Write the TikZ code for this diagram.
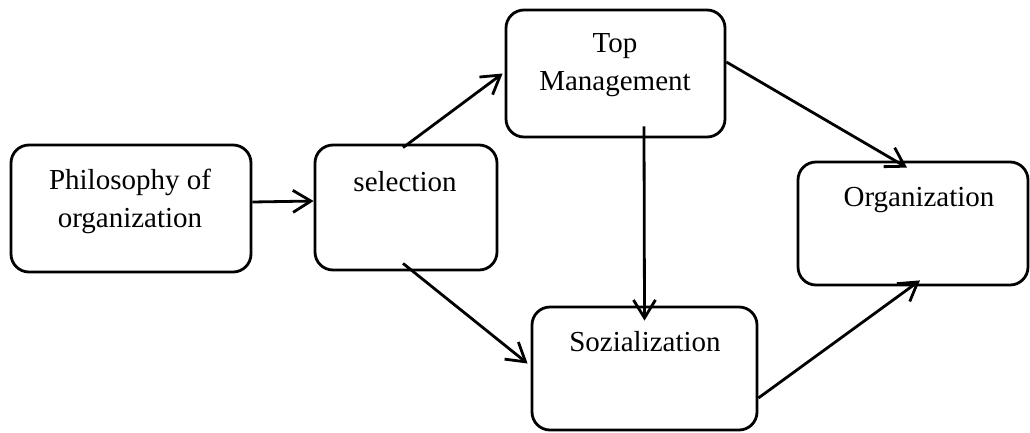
\documentclass[tikz,border=0pt]{standalone}
\usepackage{fontspec}
\setmainfont{Liberation Serif}
\usetikzlibrary{arrows.meta}

\tikzset{
  box/.style={draw, line width=2.8pt, rounded corners=18pt, inner sep=0pt},
  txt/.style={font=\fontsize{29}{38}\selectfont, align=center, inner sep=0pt},
  arr/.style={line width=2.8pt, -{Straight Barb[length=18pt,width=22pt,line width=2.8pt]}}
}

\begin{document}
\begin{tikzpicture}[x=1pt,y=-1pt]
\useasboundingbox (0,0) rectangle (1030,432);

% boxes
\node [box, minimum width=240pt, minimum height=127pt] (phil) at (131,208.5) {};
\node [box, minimum width=182pt, minimum height=125pt] (sel) at (406,207.5) {};
\node [box, minimum width=219pt, minimum height=127pt] (top) at (615.5,73.5) {};
\node [box, minimum width=230pt, minimum height=123pt] (org) at (913,223.5) {};
\node [box, minimum width=225pt, minimum height=123pt] (soz) at (644.5,368.5) {};

% labels (base = last line)
\node [txt, anchor=base] (philtext) at (130,227) {Philosophy of\\organization};
\node [txt, anchor=base] (seltext) at (405,191) {selection};
\node [txt, anchor=base] (toptext) at (615,90) {Top\\Management};
\node [txt, anchor=base] (orgtext) at (919,206) {Organization};
\node [txt, anchor=base] (soztext) at (645,351) {Sozialization};

% arrows
\draw [arr] ([yshift=6.5pt]phil.east) -- ([yshift=6.5pt]sel.west);
\draw [arr] ([xshift=-3pt,yshift=-4pt]sel.north) -- ([xshift=-2pt]top.west);
\draw [arr] ([xshift=-3pt,yshift=8pt]sel.south) -- ([xshift=-3pt,yshift=5pt]soz.west);
\draw [arr] ([xshift=28.5pt,yshift=12pt]top.south) -- ([yshift=-15pt]soz.north);
\draw [arr] ([yshift=11.5pt]top.east) -- ([xshift=-6pt,yshift=-7pt]org.north);
\draw [arr] ([yshift=-29.5pt]soz.east) -- ([xshift=7pt,yshift=6pt]org.south);

\end{tikzpicture}
\end{document}
